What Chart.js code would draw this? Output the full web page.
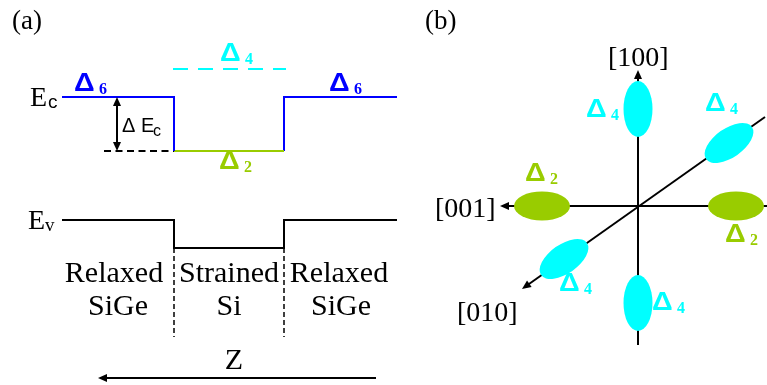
<!DOCTYPE html>
<html>
<head>
<meta charset="utf-8">
<script src="https://cdn.jsdelivr.net/npm/chart.js@4"></script>
<style>
  html, body { margin: 0; padding: 0; background: #fff; }
  #wrap { width: 767px; height: 385px; }
</style>
</head>
<body>
<div id="wrap"><canvas id="bands"></canvas></div>
<script>
// diagram space is 767 x 385 units, y grows downward (energy drawn top = high)

// (a) band edges across the SiGe / Si / SiGe stack
const ecBarrierLeft = [[62, 97], [174, 97], [174, 151]];
const ecWell = [[174, 151], [284, 151]];
const ecBarrierRight = [[284, 151], [284, 97], [397, 97]];
const delta4Level = [[173, 69], [286, 69]];
const ecReference = [[104, 151], [174, 151]];
const evEdge = [[62, 220], [174, 220], [174, 248], [284, 248], [284, 220], [397, 220]];
const interfaceLeft = [[174, 248], [174, 337]];
const interfaceRight = [[284, 248], [284, 337]];

// arrows: tail, tip, double headed
const arrowLines = [
  [[117, 151], [117, 97], true],    // delta Ec
  [[376, 378], [98, 378], false],   // z
  [[638, 345], [638, 70], false],   // [100]
  [[767, 206], [500, 206], false],  // [001]
  [[765, 117], [522, 289], false]   // [010]
];

// (b) constant energy ellipsoids: centre x, centre y, long axis angle (deg)
const delta4Valleys = [[638, 109, 90], [729, 143, 35], [564, 259, 35], [638, 303, 90]];
const delta2Valleys = [[542, 206, 0], [736, 206, 0]];

// valley labels: subscript, x, baseline
const valleyLabels = [
  ["6", 74, 91], ["6", 329, 91], ["4", 220, 61], ["2", 219, 169],
  ["4", 586, 117], ["4", 705, 111], ["2", 525, 181], ["2", 725, 242],
  ["4", 559, 291], ["4", 652, 310]
];

const regionTop = ["Relaxed", "Strained", "Relaxed"];
const regionBottom = ["SiGe", "Si", "SiGe"];
const regionTopX = [114, 229, 339];
const regionBottomX = [118, 229, 341];

const directions = [["[100]", 608, 66], ["[001]", 435, 217], ["[010]", 457, 321]];

const BLUE = '#0000ff', GREEN = '#99cc00', CYAN = '#00ffff', INK = '#000000';
const valleyColor = { "6": BLUE, "4": CYAN, "2": GREEN };
const SERIF = '"Liberation Serif", "Times New Roman", serif';
const SANS = '"Liberation Sans", Arial, sans-serif';

function seg(pts, color, width, dash) {
  return {
    data: pts.map(([a, b]) => ({ x: a, y: b })),
    showLine: true, borderColor: color, borderWidth: width,
    borderDash: dash || [], pointRadius: 0, fill: false, tension: 0
  };
}

// shafts stop short of the tip so the heads stay sharp
function shaft([tail, tip, both]) {
  const dx = tip[0] - tail[0], dy = tip[1] - tail[1];
  const len = Math.hypot(dx, dy), ux = dx / len, uy = dy / len;
  const end = [tip[0] - ux * 6, tip[1] - uy * 6];
  const start = both ? [tail[0] + ux * 6, tail[1] + uy * 6] : tail;
  return seg([start, end], INK, 2);
}

const datasets = [
  seg(ecBarrierLeft, BLUE, 2),
  seg(ecWell, GREEN, 2),
  seg(ecBarrierRight, BLUE, 2),
  seg(delta4Level, CYAN, 2, [15, 10]),
  seg(ecReference, INK, 2, [7, 4.5]),
  seg(evEdge, INK, 2),
  seg(interfaceLeft, INK, 1.5, [5, 3]),
  seg(interfaceRight, INK, 1.5, [5, 3])
].concat(arrowLines.map(shaft));

function head(ctx, tx, ty, ux, uy) {
  const L = 9, W = 4;
  ctx.beginPath();
  ctx.moveTo(tx, ty);
  ctx.lineTo(tx - ux * L - uy * W, ty - uy * L + ux * W);
  ctx.lineTo(tx - ux * L + uy * W, ty - uy * L - ux * W);
  ctx.closePath();
  ctx.fill();
}

const diagramArt = {
  id: 'diagramArt',
  afterDatasetsDraw(chart) {
    const { ctx, scales: { x, y } } = chart;
    const px = v => x.getPixelForValue(v), py = v => y.getPixelForValue(v);
    ctx.save();

    // arrow heads
    ctx.fillStyle = INK;
    arrowLines.forEach(([tail, tip, both]) => {
      const dx = px(tip[0]) - px(tail[0]), dy = py(tip[1]) - py(tail[1]);
      const len = Math.hypot(dx, dy), ux = dx / len, uy = dy / len;
      head(ctx, px(tip[0]), py(tip[1]), ux, uy);
      if (both) head(ctx, px(tail[0]), py(tail[1]), -ux, -uy);
    });

    // valley ellipsoids
    const ell = (list, color) => list.forEach(([cx, cy, ang]) => {
      ctx.fillStyle = color;
      ctx.beginPath();
      ctx.ellipse(px(cx), py(cy), 28, 14.5, -ang * Math.PI / 180, 0, Math.PI * 2);
      ctx.fill();
    });
    ell(delta4Valleys, CYAN);
    ell(delta2Valleys, GREEN);

    ctx.textBaseline = 'alphabetic';
    ctx.fillStyle = INK;

    // panel tags
    ctx.font = '27px ' + SERIF;
    ctx.fillText('(a)', px(12), py(29));
    ctx.fillText('(b)', px(425), py(29));

    // Ec / Ev
    ctx.font = '28px ' + SERIF;
    ctx.fillText('E', px(30), py(106));
    ctx.fillText('E', px(28), py(229));
    ctx.font = '19px ' + SANS;
    ctx.fillText('c', px(48), py(108));
    ctx.font = '19px ' + SERIF;
    ctx.fillText('v', px(45), py(231));

    // delta Ec
    ctx.font = '20px ' + SANS;
    ctx.fillText('\u0394 E', px(122), py(132));
    ctx.font = '16px ' + SANS;
    ctx.fillText('c', px(153), py(136));

    // regions
    ctx.textAlign = 'center';
    ctx.font = '30px ' + SERIF;
    regionTop.forEach((t, i) => ctx.fillText(t, px(regionTopX[i]), py(282)));
    regionBottom.forEach((t, i) => ctx.fillText(t, px(regionBottomX[i]), py(315)));
    ctx.fillText('Z', px(234), py(369));
    ctx.textAlign = 'left';

    // crystal directions
    ctx.font = '28px ' + SERIF;
    directions.forEach(([t, a, b]) => ctx.fillText(t, px(a), py(b)));

    // valley labels
    valleyLabels.forEach(([sub, a, b]) => {
      ctx.fillStyle = valleyColor[sub];
      ctx.save();
      ctx.translate(px(a), py(b));
      ctx.scale(1.15, 1);
      ctx.font = 'bold 25px ' + SANS;
      ctx.fillText('\u0394', 0, 0);
      ctx.restore();
      ctx.font = 'bold 16px ' + SERIF;
      ctx.fillText(sub, px(a + 25), py(b + 3));
    });

    ctx.restore();
  }
};

new Chart(document.getElementById('bands'), {
  type: 'scatter',
  data: { datasets },
  options: {
    responsive: true,
    maintainAspectRatio: false,
    animation: false,
    events: [],
    layout: { padding: 0 },
    plugins: { legend: { display: false }, tooltip: { enabled: false } },
    scales: {
      x: { type: 'linear', min: 0, max: 767, display: false },
      y: { type: 'linear', min: 0, max: 385, reverse: true, display: false }
    }
  },
  plugins: [diagramArt]
});
</script>
</body>
</html>
